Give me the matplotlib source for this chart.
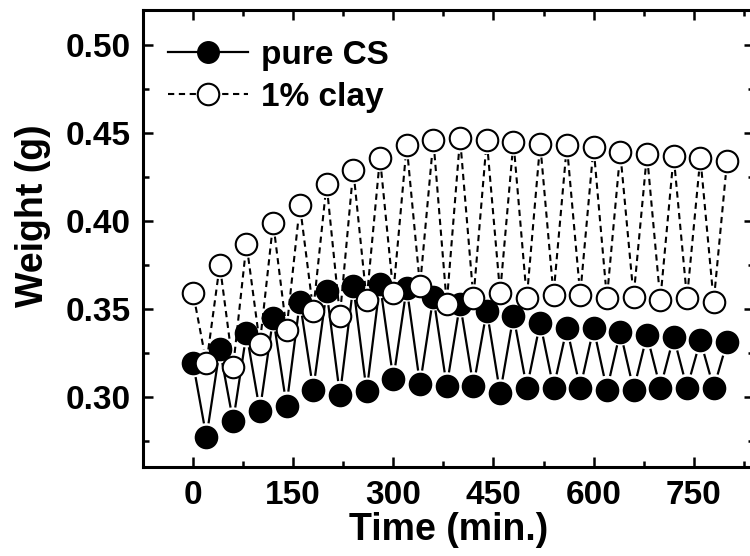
import numpy as np
import matplotlib.pyplot as plt
from matplotlib.lines import Line2D

plt.rcParams['font.family'] = ['Liberation Sans', 'DejaVu Sans']
plt.rcParams['font.weight'] = 'bold'

# time (min.)
time = [0, 20, 40, 60, 80, 100, 120, 140, 160, 180, 200, 220, 240, 260,
        280, 300, 320, 340, 360, 380, 400, 420, 440, 460, 480, 500, 520,
        540, 560, 580, 600, 620, 640, 660, 680, 700, 720, 740, 760, 780, 800]

# weight (g)
pure_cs = [0.319, 0.277, 0.327, 0.286, 0.336, 0.292, 0.345, 0.295, 0.354,
           0.304, 0.360, 0.301, 0.363, 0.303, 0.364, 0.310, 0.362, 0.307,
           0.357, 0.306, 0.353, 0.306, 0.349, 0.302, 0.346, 0.305, 0.342,
           0.305, 0.339, 0.305, 0.339, 0.304, 0.337, 0.304, 0.335, 0.305,
           0.334, 0.305, 0.332, 0.305, 0.331]
clay_1 = [0.359, 0.319, 0.375, 0.317, 0.387, 0.330, 0.399, 0.338, 0.409,
          0.349, 0.421, 0.346, 0.429, 0.355, 0.436, 0.359, 0.443, 0.363,
          0.446, 0.353, 0.447, 0.356, 0.446, 0.359, 0.445, 0.356, 0.444,
          0.358, 0.443, 0.358, 0.442, 0.356, 0.439, 0.357, 0.438, 0.355,
          0.437, 0.356, 0.436, 0.354, 0.434]


def gapped_line(ax, x, y, gap, **kw):
    # Origin style: the line stops short of each symbol
    pts = ax.transData.transform(np.column_stack([x, y]))
    inv = ax.transData.inverted()
    for p0, p1 in zip(pts[:-1], pts[1:]):
        d = p1 - p0
        L = np.hypot(*d)
        if L <= 2 * gap:
            continue
        u = d / L
        seg = inv.transform(np.array([p0 + u * gap, p1 - u * gap]))
        ax.plot(seg[:, 0], seg[:, 1], **kw)


fig = plt.figure(figsize=(7.5, 5.56), dpi=100)
ax = fig.add_axes([0.1907, 0.160, 0.8143, 0.822])
ax.set_xlim(-50, 840)
ax.set_ylim(0.26, 0.52)

ms = 15.5
gapped_line(ax, time, pure_cs, 14, color='black', lw=1.6, solid_capstyle='butt')
gapped_line(ax, time, clay_1, 14, color='black', lw=1.5, dashes=(3.0, 2.2))
ax.plot(time, pure_cs, 'o', ms=ms, mfc='black', mec='black', mew=1.5, zorder=3)
ax.plot(time, clay_1, 'o', ms=ms, mfc='white', mec='black', mew=1.5, zorder=3)

ax.set_xticks([0, 150, 300, 450, 600, 750])
ax.set_xticks(np.arange(-75, 841, 75), minor=True)
ax.set_yticks([0.30, 0.35, 0.40, 0.45, 0.50])
ax.set_yticks(np.arange(0.275, 0.52, 0.025), minor=True)
ax.set_yticklabels(['0.30', '0.35', '0.40', '0.45', '0.50'])
ax.tick_params(which='both', direction='in', top=True, right=True, width=1.8,
               labelsize=24)
ax.tick_params(which='major', length=7, pad=9)
ax.tick_params(which='minor', length=4)
for s in ax.spines.values():
    s.set_linewidth(2.2)

ax.set_xlabel('Time (min.)', fontsize=27, fontweight='bold', labelpad=1)
ax.set_ylabel('Weight (g)', fontsize=27, fontweight='bold')
ax.yaxis.set_label_coords(-0.15, 0.551)

handles = [Line2D([], [], color='black', lw=1.6, marker='o', ms=ms, mfc='black', mec='black'),
           Line2D([], [], color='black', lw=1.5, dashes=(3.0, 2.2), marker='o', ms=ms,
                  mfc='white', mec='black', mew=1.5)]
ax.legend(handles, ['pure CS', '1% clay'], loc='upper left', bbox_to_anchor=(0.041, 0.935),
          frameon=False, handlelength=2.4, handletextpad=0.4, labelspacing=0.33,
          borderpad=0, borderaxespad=0, prop={'size': 24, 'weight': 'bold'})

fig.savefig('out.png', dpi=100)
